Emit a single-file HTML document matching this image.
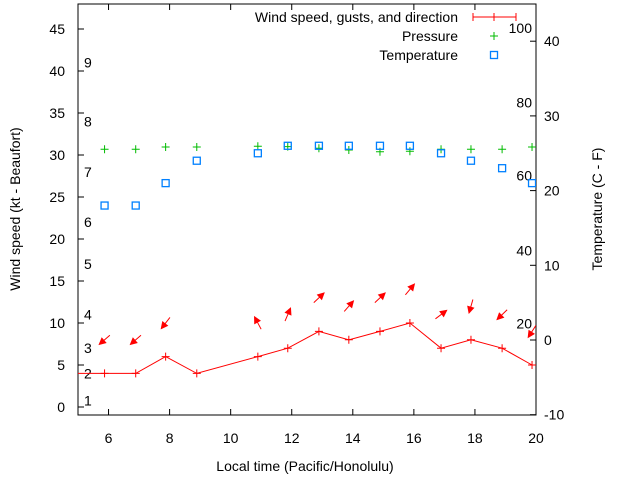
<!DOCTYPE html>
<html><head><meta charset="utf-8"><style>
body{margin:0;background:#fff}
svg{font-family:"Liberation Sans",sans-serif;font-size:14px}
</style></head><body>
<svg id="c" width="640" height="480" xmlns="http://www.w3.org/2000/svg"></svg>
<script>
const hours=[4.89,5.87,6.89,7.87,8.89,10.89,11.87,12.89,13.87,14.89,15.87,16.89,17.87,18.89,19.87];
const wind=[4,4,4,6,4,6,7,9,8,9,10,7,8,7,5];
const dirs=[null,221,221,232,null,118,67,43,49,43,50,37,254,224,237];
const pressure=[null,30.68,30.68,30.95,30.95,31.04,30.99,30.8,30.6,30.39,30.44,30.68,30.68,30.68,30.95];
const temps=[null,18,18,21,24,25,26,26,26,26,26,25,24,23,21];
const xTicks=[6,8,10,12,14,16,18,20];
const yTicks=[0,5,10,15,20,25,30,35,40,45];
const y2Ticks=[-10,0,10,20,30,40];
const beaufort=[["1",0.8],["2",4],["3",7],["4",11],["5",17],["6",22],["7",28],["8",34],["9",41]];
const fahr=[["20",2.2],["40",12],["60",22],["80",31.8],["100",41.8]];

const L=78,R=536,T=4,B=415;
const X=h=>L+(h-5)*(R-L)/15;
const Y=v=>407-v*8.4;
const Y2=v=>340-v*7.47;
const s=document.getElementById('c');
const NS='http://www.w3.org/2000/svg';
function mk(tag,at,txt){const e=document.createElementNS(NS,tag);for(const k in at)e.setAttribute(k,at[k]);if(txt!==undefined)e.textContent=txt;s.appendChild(e);return e;}

let e;
e=mk('rect',{x:L,y:T,width:R-L,height:B-T,fill:'none',stroke:'#000','stroke-width':1});


xTicks.forEach(t=>{
 e=mk('path',{d:`M${X(t)} ${B}v-6M${X(t)} ${T}v6`,stroke:'#000'});
 
 
 e=mk('text',{x:X(t),y:443,'text-anchor':'middle'},t);
 
 
});
yTicks.forEach(t=>{
 e=mk('path',{d:`M${L} ${Y(t)}h6`,stroke:'#000'});
 
 
 e=mk('text',{x:65,y:Y(t)+5,'text-anchor':'end'},t);
 
 
});
y2Ticks.forEach(t=>{
 e=mk('path',{d:`M${R} ${Y2(t)}h-6`,stroke:'#000'});
 
 
 e=mk('text',{x:544,y:Y2(t)+5},t);
 
 
});
beaufort.forEach(b=>{
 e=mk('text',{x:84,y:Y(b[1])+5},b[0]);
 
 
});
fahr.forEach(f=>{
 e=mk('text',{x:532,y:Y2(f[1])+5,'text-anchor':'end'},f[0]);
 
 
});
e=mk('text',{x:305,y:471,'text-anchor':'middle'},'Local time (Pacific/Honolulu)');


e=mk('text',{x:20,y:209,'text-anchor':'middle',transform:'rotate(-90 20 209)'},'Wind speed (kt - Beaufort)');


e=mk('text',{x:602,y:209,'text-anchor':'middle',transform:'rotate(-90 602 209)'},'Temperature (C - F)');



mk('clipPath',{id:'cp'}).innerHTML=`<rect x="${L}" y="${T}" width="${R-L}" height="${B-T}"/>`;
const g=mk('g',{'clip-path':'url(#cp)'});


function add(tag,at){const el=document.createElementNS(NS,tag);for(const k in at)el.setAttribute(k,at[k]);g.appendChild(el);return el;}
let d=hours.map((h,i)=>(i?'L':'M')+X(h)+' '+Y(wind[i])).join('');
e=add('path',{d,fill:'none',stroke:'#f00'});


hours.forEach((h,i)=>{
 const x=X(h),y=Y(wind[i]);
 e=add('path',{d:`M${x-4} ${y}h8M${x} ${y-4}v8`,stroke:'#f00'});
 
 
 if(dirs[i]!==null){
  const a=dirs[i]*Math.PI/180,cx=x,cy=Y(wind[i]+4),dx=Math.cos(a)*7,dy=-Math.sin(a)*7;
  const hx=cx+dx,hy=cy+dy,ux=-dx/7,uy=-dy/7,px=-uy,py=ux;
  e=add('path',{d:`M${cx-dx} ${cy-dy}L${hx} ${hy}M${hx} ${hy}L${hx+ux*6+px*3} ${hy+uy*6+py*3}L${hx+ux*6-px*3} ${hy+uy*6-py*3}Z`,stroke:'#f00',fill:'#f00'});
  
  
 }
 if(pressure[i]!==null){
  const py2=Y(pressure[i]);
  e=add('path',{d:`M${x-4} ${py2}h8M${x} ${py2-4}v8`,stroke:'#0b0'});
  
  
 }
 if(temps[i]!==null){
  e=add('rect',{x:x-3.5,y:Y2(temps[i])-3.5,width:7,height:7,fill:'none',stroke:'#0080ff','stroke-width':1.3});
  
  
 }
});
// legend
e=mk('text',{x:458,y:22,'text-anchor':'end'},'Wind speed, gusts, and direction');


e=mk('path',{d:'M473 17H516M473 13v8M516 13v8M494 13v8',stroke:'#f00'});


e=mk('text',{x:458,y:41,'text-anchor':'end'},'Pressure');


e=mk('path',{d:'M490 36h8M494 32v8',stroke:'#0b0'});


e=mk('text',{x:458,y:60,'text-anchor':'end'},'Temperature');


e=mk('rect',{x:490.5,y:51.5,width:7,height:7,fill:'none',stroke:'#0080ff','stroke-width':1.3});


</script>
</body></html>
